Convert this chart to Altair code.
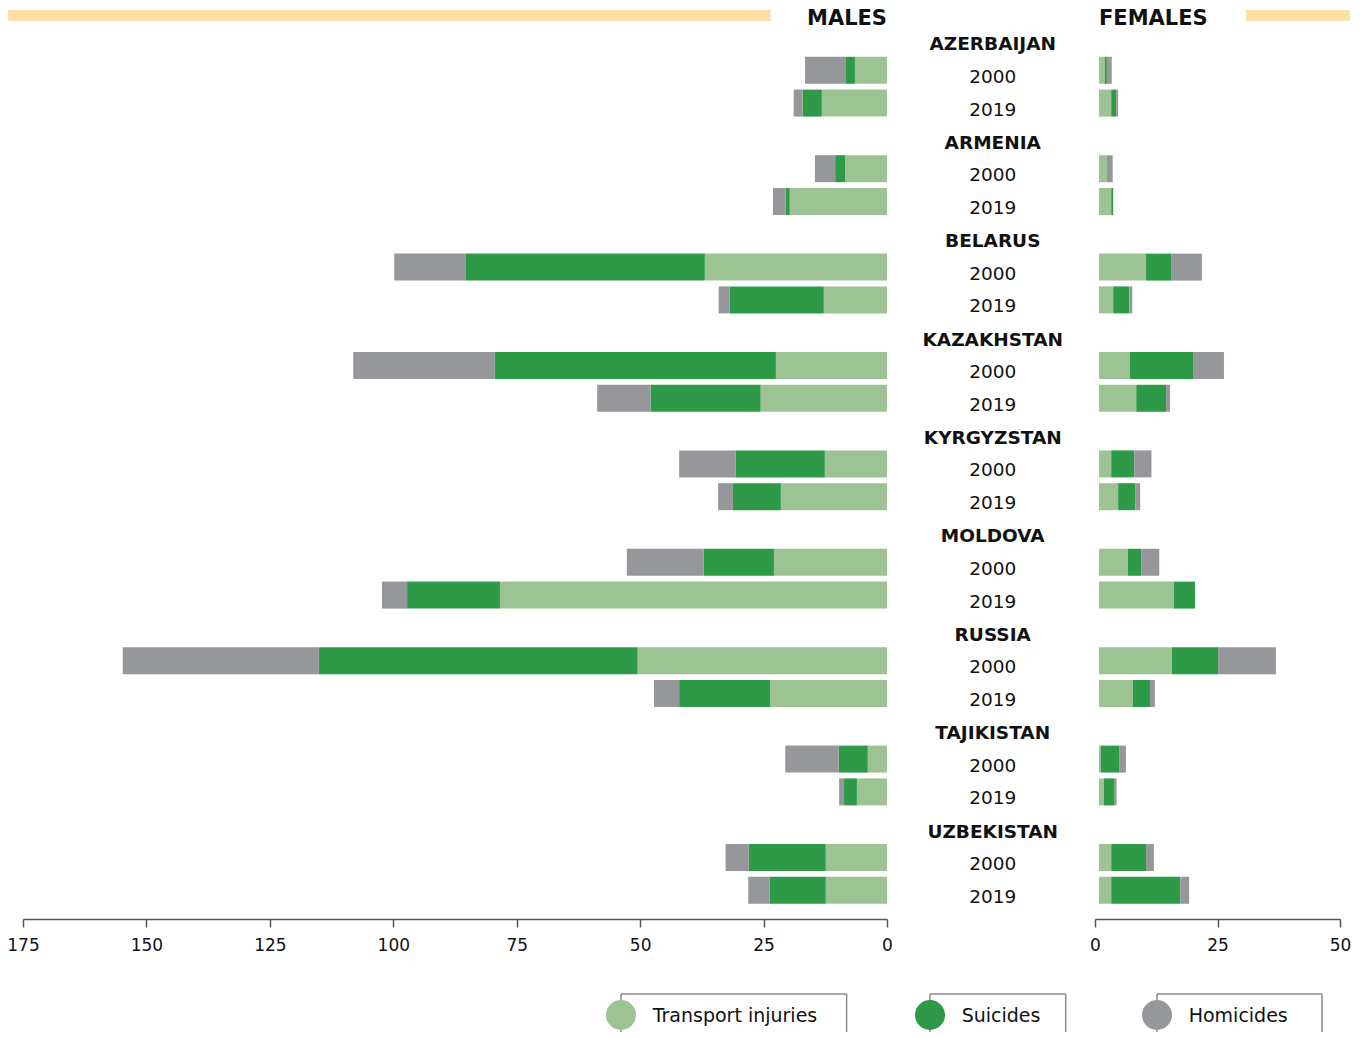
import altair as alt
import pandas as pd

# ---------------- data ----------------
countries = ["AZERBAIJAN", "ARMENIA", "BELARUS", "KAZAKHSTAN", "KYRGYZSTAN",
             "MOLDOVA", "RUSSIA", "TAJIKISTAN", "UZBEKISTAN"]
years = ["2000", "2019"]
causes = ["Transport injuries", "Suicides", "Homicides"]
sex_labels = ["MALES", "FEMALES"]

# values per country, 2000 then 2019
male_transport = [6.5, 13.2, 8.5, 19.7, 36.9, 12.8, 22.5, 25.6, 12.6, 21.5,
                  22.9, 78.4, 50.5, 23.7, 3.9, 6.1, 12.4, 12.4]
male_suicides = [1.8, 3.9, 2.0, 0.8, 48.5, 19.1, 57.0, 22.3, 18.1, 9.7,
                 14.2, 18.8, 64.6, 18.4, 5.9, 2.6, 15.6, 11.4]
male_homicides = [8.3, 1.8, 4.1, 2.6, 14.4, 2.2, 28.6, 10.8, 11.4, 3.0,
                  15.6, 5.1, 39.7, 5.1, 10.8, 1.0, 4.7, 4.3]

female_transport = [1.2, 2.5, 1.6, 2.5, 9.6, 2.9, 6.3, 7.6, 2.5, 3.9,
                    5.9, 15.3, 14.9, 6.9, 0.4, 1.0, 2.5, 2.5]
female_suicides = [0.4, 1.0, 0.0, 0.4, 5.1, 3.3, 12.9, 6.1, 4.7, 3.5,
                   2.7, 4.3, 9.4, 3.5, 3.7, 2.2, 7.1, 14.1]
female_homicides = [1.0, 0.4, 1.2, 0.0, 6.3, 0.6, 6.3, 0.8, 3.5, 1.0,
                    3.7, 0.0, 11.8, 1.0, 1.4, 0.4, 1.6, 1.8]

male_ticks = [0, 25, 50, 75, 100, 125, 150, 175]
female_ticks = [0, 25, 50]

# ---------------- styles ----------------
cause_colors = ["#9dc294", "#2e9a48", "#96979b"]
ORANGE = "#fddfa6"
BOXC = "#8a8a8a"
INK = "#111111"
FONT = "DejaVu Sans"
MALE_W, MID_W, FEM_W, PLOT_H = 864, 207.5, 245, 895

# ---------------- tables ----------------
recs = []
for sex, series in [("M", [male_transport, male_suicides, male_homicides]),
                    ("F", [female_transport, female_suicides, female_homicides])]:
    for ci, cause in enumerate(causes):
        k = 0
        for c in countries:
            for y in years:
                recs.append(dict(sex=sex, row=f"{c} {y}", cause=cause,
                                 order=ci, value=series[ci][k]))
                k += 1
df = pd.DataFrame(recs)

row_order, lab = [], []
for c in countries:
    row_order.append(c)
    lab.append(dict(row=c, text=c, kind="country"))
    for y in years:
        row_order.append(f"{c} {y}")
        lab.append(dict(row=f"{c} {y}", text=y, kind="year"))
labels_df = pd.DataFrame(lab)

yscale = alt.Scale(type="band", domain=row_order, paddingInner=0.177,
                   paddingOuter=0.232, align=0)
color = alt.Color("cause:N", scale=alt.Scale(domain=causes, range=cause_colors),
                  legend=None)


def axis(vals):
    return alt.Axis(values=vals, title=None, grid=False, domainColor="#555",
                    tickColor="#555", domainWidth=1.5, tickWidth=1.5, tickSize=8,
                    labelPadding=10, labelFont=FONT, labelFontSize=17,
                    labelColor=INK, labelFlush=False, labelOverlap=False,
                    format="d")


# ---------------- males ----------------
m_bars = alt.Chart(df[df.sex == "M"]).mark_bar().encode(
    x=alt.X("value:Q", stack="zero",
            scale=alt.Scale(domain=[0, 175], reverse=True, nice=False),
            axis=axis(male_ticks)),
    y=alt.Y("row:N", scale=yscale, axis=None),
    color=color,
    order=alt.Order("order:Q"),
)
m_hdr = pd.DataFrame({"t": [sex_labels[0]]})
m_band = alt.Chart(m_hdr).mark_rect(color=ORANGE).encode(
    x=alt.value(-15.5), x2=alt.value(747.5), y=alt.value(-14), y2=alt.value(-3))
m_title = alt.Chart(m_hdr).mark_text(font=FONT, fontSize=21, fontWeight="bold",
                                     align="right", baseline="middle",
                                     color=INK).encode(
    text="t:N", x=alt.value(MALE_W), y=alt.value(-5))
males = alt.layer(m_band, m_bars, m_title).properties(width=MALE_W, height=PLOT_H)

# ---------------- middle labels ----------------
mid_base = alt.Chart(labels_df).encode(
    y=alt.Y("row:N", scale=yscale, axis=None),
    x=alt.value(MID_W / 2 + 2),
    text="text:N",
)
mid_c = mid_base.transform_filter(alt.datum.kind == "country").mark_text(
    font=FONT, fontSize=18.5, fontWeight="bold", color=INK, baseline="middle", dy=7)
mid_y = mid_base.transform_filter(alt.datum.kind == "year").mark_text(
    font=FONT, fontSize=18.5, color=INK, baseline="middle", dy=6.5)
mid = alt.layer(mid_c, mid_y).properties(width=MID_W, height=PLOT_H)

# ---------------- females ----------------
f_bars = alt.Chart(df[df.sex == "F"]).mark_bar(xOffset=4, x2Offset=4).encode(
    x=alt.X("value:Q", stack="zero",
            scale=alt.Scale(domain=[0, 50], nice=False),
            axis=axis(female_ticks)),
    y=alt.Y("row:N", scale=yscale, axis=None),
    color=color,
    order=alt.Order("order:Q"),
)
f_hdr = pd.DataFrame({"t": [sex_labels[1]]})
f_band = alt.Chart(f_hdr).mark_rect(color=ORANGE).encode(
    x=alt.value(151), x2=alt.value(255), y=alt.value(-14), y2=alt.value(-3))
f_title = alt.Chart(f_hdr).mark_text(font=FONT, fontSize=21, fontWeight="bold",
                                     align="left", baseline="middle",
                                     color=INK).encode(
    text="t:N", x=alt.value(4), y=alt.value(-5))
females = alt.layer(f_band, f_bars, f_title).properties(width=FEM_W, height=PLOT_H)

top_row = alt.hconcat(males, mid, females, spacing=0, bounds="flush")

# ---------------- legend ----------------
legend_box_w = [225.6, 135.7, 165]
legend_cell_w = [308.3, 226.7, 165]
LEG_H = 38
items = []
for i, cause in enumerate(causes):
    base = alt.Chart(pd.DataFrame({"cause": [cause]}))
    bw = legend_box_w[i]
    top = base.mark_rule(color=BOXC, strokeWidth=1.5).encode(
        x=alt.value(0), x2=alt.value(bw), y=alt.value(0))
    left = base.mark_rule(color=BOXC, strokeWidth=1.5).encode(
        x=alt.value(0), y=alt.value(0), y2=alt.value(LEG_H))
    right = base.mark_rule(color=BOXC, strokeWidth=1.5).encode(
        x=alt.value(bw), y=alt.value(0), y2=alt.value(LEG_H))
    dot = base.mark_circle(size=900, opacity=1).encode(
        x=alt.value(0), y=alt.value(21), color=color)
    txt = base.mark_text(font=FONT, fontSize=19, align="left", baseline="middle",
                         color=INK).encode(
        x=alt.value(31.7), y=alt.value(21.5), text="cause:N")
    items.append(alt.layer(top, left, right, dot, txt).properties(
        width=legend_cell_w[i], height=LEG_H))

spacer = alt.Chart(pd.DataFrame({"s": [""]})).mark_text().encode(
    text="s:N", x=alt.value(0), y=alt.value(0)).properties(width=598, height=LEG_H)
legend_row = alt.hconcat(spacer, *items, spacing=0, bounds="flush")

chart = alt.vconcat(top_row, legend_row, spacing=35, bounds="full").properties(
    padding={"left": -2, "top": 0, "right": 0, "bottom": 0}
).configure_view(stroke=None)

chart.save("out.html", embed_options={"renderer": "svg", "actions": False})
